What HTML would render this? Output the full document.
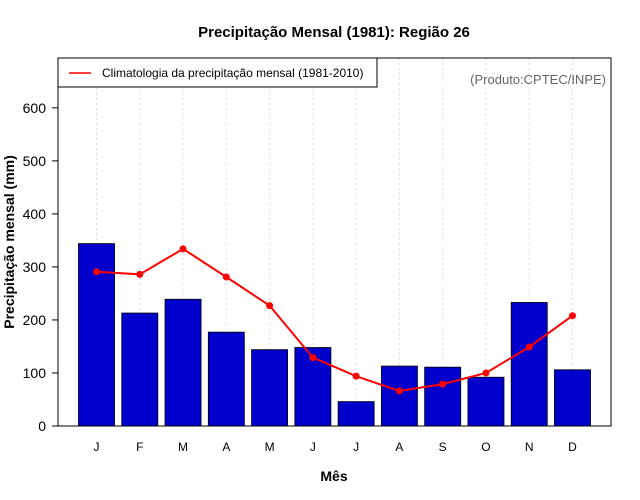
<!DOCTYPE html>
<html><head><meta charset="utf-8"><style>
body{margin:0;background:#fff}
svg{display:block;font-family:"Liberation Sans",sans-serif}
</style></head><body>
<svg id="chart" width="640" height="500">
<text x="334" y="37" text-anchor="middle" font-size="15" font-weight="bold">Precipitação Mensal (1981): Região 26</text>
<text x="334" y="481" text-anchor="middle" font-size="14" font-weight="bold">Mês</text>
<text transform="translate(14,242) rotate(-90)" text-anchor="middle" font-size="14" font-weight="bold">Precipitação mensal (mm)</text>
<g id="grid"></g><g id="bars"></g><g id="line"></g><g id="axes"></g>
<rect x="58" y="58" width="553" height="368" fill="none" stroke="#000"/>
<g>
<rect x="58" y="58" width="319" height="29" fill="#fff" stroke="#000"/>
<line x1="69" y1="73" x2="91" y2="73" stroke="red" stroke-width="1.5"/>
<text x="102" y="77" font-size="12">Climatologia da precipitação mensal (1981-2010)</text>
</g>
<text x="606" y="84" text-anchor="end" font-size="13" fill="#666">(Produto:CPTEC/INPE)</text>
</svg>
<script>
const months=["J","F","M","A","M","J","J","A","S","O","N","D"];
const observed=[344,213,239,177,144,148,46,113,111,92,233,106];
const climatology=[291,286,334,281,227,129,94,66,79,100,149,208];
const yTicks=[0,100,200,300,400,500,600];
const NS="http://www.w3.org/2000/svg";
const L=58,R=611,T=58,B=426;
const xmin=-0.368,xmax=14.968,ymax=694;
const sx=v=>L+(v-xmin)/(xmax-xmin)*(R-L);
const sy=v=>B-v/ymax*(B-T);
const ctr=i=>0.7+1.2*i;
function mk(tag,attrs,parent){const e=document.createElementNS(NS,tag);for(const k in attrs)e.setAttribute(k,attrs[k]);document.getElementById(parent).appendChild(e);return e;}
months.forEach((m,i)=>{
 const g=mk("line",{x1:sx(ctr(i)),x2:sx(ctr(i)),y1:T,y2:B,stroke:"#ddd","stroke-dasharray":"2,3"},"grid");
 
 
 const b=mk("rect",{x:sx(ctr(i)-0.5),y:sy(observed[i]),width:sx(ctr(i)+0.5)-sx(ctr(i)-0.5),height:B-sy(observed[i]),fill:"#0000cd",stroke:"#000","stroke-width":0.8},"bars");
 
 
 const t=mk("text",{x:sx(ctr(i)),y:451,"text-anchor":"middle","font-size":12},"axes");
 t.textContent=m;
 
 
});
const pts=climatology.map((v,i)=>sx(ctr(i))+","+sy(v)).join(" ");
const pl=mk("polyline",{points:pts,fill:"none",stroke:"red","stroke-width":2},"line");


climatology.forEach((v,i)=>{
 const c=mk("circle",{cx:sx(ctr(i)),cy:sy(v),r:3.5,fill:"red"},"line");
 
 
});
yTicks.forEach(v=>{
 const l=mk("line",{x1:L-6,x2:L,y1:sy(v),y2:sy(v),stroke:"#000"},"axes");
 
 
 const t=mk("text",{x:L-12,y:sy(v)+5,"text-anchor":"end","font-size":14},"axes");
 t.textContent=v;
 
 
});
</script>
</body></html>
